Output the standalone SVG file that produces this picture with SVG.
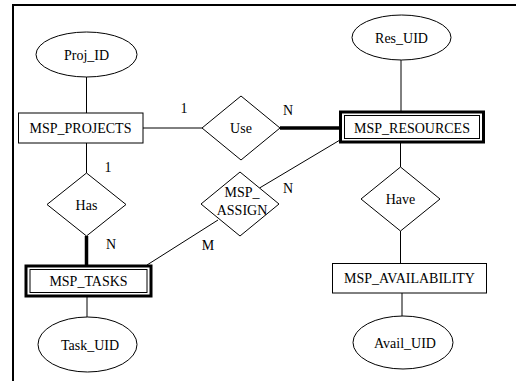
<svg xmlns="http://www.w3.org/2000/svg" width="516" height="381" viewBox="0 0 516 381">
<style>
.s{fill:#fff;stroke:#000;stroke-width:1}
.t{font-family:"Liberation Serif","Times New Roman",serif;font-size:14px;fill:#000;text-anchor:middle}
.l{stroke:#000;stroke-width:1;fill:none}
.k{stroke:#000;stroke-width:3.5;fill:none}
.o{fill:#fff;stroke:#000;stroke-width:3}
</style>
<rect width="516" height="381" fill="#fff"/>
<path d="M13 381 V5 H516" fill="none" stroke="#000" stroke-width="2"/>
<g id="connectors">
<line class="l" x1="86.5" y1="77" x2="86.5" y2="113"/>
<line class="l" x1="143" y1="128" x2="202" y2="128"/>
<line class="k" x1="280" y1="128" x2="340" y2="128"/>
<line class="l" x1="401" y1="60" x2="401" y2="111"/>
<line class="l" x1="400.5" y1="143" x2="400.5" y2="167"/>
<line class="l" x1="400.5" y1="231" x2="400.5" y2="263"/>
<line class="l" x1="402" y1="293" x2="402" y2="316"/>
<line class="l" x1="86.5" y1="143" x2="86.5" y2="173"/>
<line class="k" x1="86.5" y1="236" x2="86.5" y2="265"/>
<line class="l" x1="87" y1="297" x2="87" y2="317"/>
<line class="l" x1="340" y1="140" x2="259.5" y2="188"/>
<line class="l" x1="218" y1="220" x2="147" y2="265"/>
<text class="t" x="184" y="113">1</text>
<text class="t" x="288" y="115">N</text>
<text class="t" x="108" y="172">1</text>
<text class="t" x="111" y="249">N</text>
<text class="t" x="288" y="193">N</text>
<text class="t" x="208" y="250">M</text>
</g>
<g id="Proj_ID">
<ellipse class="s" cx="86.5" cy="54.5" rx="50.5" ry="22.5"/>
<text class="t" x="86.5" y="59.5">Proj_ID</text>
</g>
<g id="MSP_PROJECTS">
<rect class="s" x="18.5" y="113" width="124.5" height="30"/>
<text class="t" x="80.5" y="133">MSP_PROJECTS</text>
</g>
<g id="Use">
<polygon class="s" points="241,96 280,128 241,160 202,128"/>
<text class="t" x="241" y="133">Use</text>
</g>
<g id="Res_UID">
<ellipse class="s" cx="401.5" cy="37.5" rx="49.5" ry="22.5"/>
<text class="t" x="401.5" y="42.5">Res_UID</text>
</g>
<g id="MSP_RESOURCES">
<rect class="o" x="340.5" y="112" width="143" height="30"/>
<rect class="s" x="344.5" y="115.5" width="135" height="23"/>
<text class="t" x="412" y="133">MSP_RESOURCES</text>
</g>
<g id="Has">
<polygon class="s" points="86.5,173 126,204.5 86.5,236 47,204.5"/>
<text class="t" x="86.5" y="209.5">Has</text>
</g>
<g id="MSP_ASSIGN">
<polygon class="s" points="240,172 279,204 240,236 201,204"/>
<text class="t" x="242" y="197">MSP_</text>
<text class="t" x="242" y="215">ASSIGN</text>
</g>
<g id="Have">
<polygon class="s" points="400.5,167 440,199 400.5,231 361,199"/>
<text class="t" x="400.5" y="204">Have</text>
</g>
<g id="MSP_TASKS">
<rect class="o" x="26" y="266" width="125" height="30"/>
<rect class="s" x="30" y="269.5" width="117" height="23"/>
<text class="t" x="88.5" y="286">MSP_TASKS</text>
</g>
<g id="MSP_AVAILABILITY">
<rect class="s" x="332.5" y="263.5" width="154" height="29.5"/>
<text class="t" x="409.5" y="283">MSP_AVAILABILITY</text>
</g>
<g id="Task_UID">
<ellipse class="s" cx="87.5" cy="344.5" rx="49.5" ry="27.5"/>
<text class="t" x="90" y="349.5">Task_UID</text>
</g>
<g id="Avail_UID">
<ellipse class="s" cx="403" cy="342.5" rx="50" ry="26.5"/>
<text class="t" x="405" y="347.5">Avail_UID</text>
</g>
</svg>
